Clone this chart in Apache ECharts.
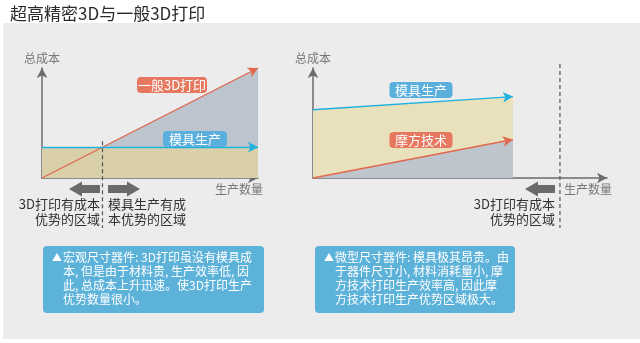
<!DOCTYPE html>
<html><head><meta charset="utf-8">
<script src="https://cdn.jsdelivr.net/npm/echarts@6/dist/echarts.min.js"></script>
<style>html,body{margin:0;padding:0;background:#fff}#c{width:640px;height:343px}</style>
</head><body><div id="c"></div>
<script>
// ---- data ----
const titleText = '超高精密3D与一般3D打印';
// left chart (macro size parts)
const leftX = [0, 100];
const leftMold = [28, 28];        // 模具生产
const leftPrint = [0, 100];       // 一般3D打印
const leftBoundary = 28;          // 成本交叉点
// right chart (micro size parts)
const rightX = [0, 68];
const rightMold = [62, 74];       // 模具生产
const rightMofang = [0, 35];      // 摩方技术
const rightBoundary = 84;
const axisNames = ['总成本', '生产数量'];
const seriesNamesLeft = ['一般3D打印', '模具生产'];
const seriesNamesRight = ['模具生产', '摩方技术'];
const leftRegionLabels = ['3D打印有成本\n优势的区域', '模具生产有成\n本优势的区域'];
const rightRegionLabel = '3D打印有成本\n优势的区域';
const leftNote = '宏观尺寸器件: 3D打印虽没有模具成\n本, 但是由于材料贵, 生产效率低, 因\n此, 总成本上升迅速。使3D打印生产\n优势数量很小。';
const rightNote = '微型尺寸器件: 模具极其昂贵。由\n于器件尺寸小, 材料消耗量小, 摩\n方技术打印生产效率高, 因此摩\n方技术打印生产优势区域极大。';

const FONT = '"Noto Sans CJK SC","Noto Sans",sans-serif';
const ORANGE = '#e0684e', BLUE = '#1fb1e0';
const pairs = (xs, ys) => xs.map((x, i) => [x, ys[i]]);

const chart = echarts.init(document.getElementById('c'));

function axisCommon(i) {
  return {
    gridIndex: i, type: 'value', min: 0, max: 100,
    axisLine: { onZero: false, lineStyle: { color: '#6b6b6b', width: 1.5 }, symbol: ['none', 'arrow'], symbolSize: [8, 10] },
    axisTick: { show: false }, axisLabel: { show: false }, splitLine: { show: false }
  };
}
function lineMark(xs, ys, color) {
  return [{ coord: [xs[0], ys[0]], lineStyle: { color: color, width: 1.4, type: 'solid' } }, { coord: [xs[xs.length - 1], ys[ys.length - 1]] }];
}

chart.setOption({
  backgroundColor: '#fff',
  animation: false,
  title: { text: titleText, left: 5, top: 0, textStyle: { fontSize: 17, fontWeight: 'normal', color: '#2a2a2a', fontFamily: FONT } },
  grid: [
    { left: 42, top: 68, width: 216, height: 110 },
    { left: 313, top: 68, width: 294, height: 110 }
  ],
  xAxis: [axisCommon(0), axisCommon(1)],
  yAxis: [0, 1].map(i => Object.assign(axisCommon(i), {
    name: axisNames[0], nameLocation: 'end', nameGap: 4,
    nameTextStyle: { color: '#777', fontSize: 12, fontFamily: FONT }
  })),
  series: [
    { name: seriesNamesLeft[0], type: 'line', xAxisIndex: 0, yAxisIndex: 0, data: pairs(leftX, leftPrint), symbol: 'none', silent: true,
      lineStyle: { width: 0 }, areaStyle: { color: '#bcc4cd', opacity: 1 }, z: 1 },
    { name: seriesNamesLeft[1], type: 'line', xAxisIndex: 0, yAxisIndex: 0, data: pairs(leftX, leftMold), symbol: 'none', silent: true,
      lineStyle: { width: 0 }, areaStyle: { color: '#d9d0aa', opacity: 1 }, z: 2 },
    { type: 'line', xAxisIndex: 0, yAxisIndex: 0, data: pairs(leftX, leftMold), symbol: 'none', silent: true, lineStyle: { width: 0 }, z: 10,
      markLine: { silent: true, symbol: ['none', 'arrow'], symbolSize: [8, 10], label: { show: false },
        data: [lineMark(leftX, leftPrint, ORANGE), lineMark(leftX, leftMold, BLUE)] } },
    { name: seriesNamesRight[0], type: 'line', xAxisIndex: 1, yAxisIndex: 1, data: pairs(rightX, rightMold), symbol: 'none', silent: true,
      lineStyle: { width: 0 }, areaStyle: { color: '#e9e1bb', opacity: 1 }, z: 1 },
    { name: seriesNamesRight[1], type: 'line', xAxisIndex: 1, yAxisIndex: 1, data: pairs(rightX, rightMofang), symbol: 'none', silent: true,
      lineStyle: { width: 0 }, areaStyle: { color: '#bec5cd', opacity: 1 }, z: 2 },
    { type: 'line', xAxisIndex: 1, yAxisIndex: 1, data: pairs(rightX, rightMold), symbol: 'none', silent: true, lineStyle: { width: 0 }, z: 10,
      markLine: { silent: true, symbol: ['none', 'arrow'], symbolSize: [8, 10], label: { show: false },
        data: [lineMark(rightX, rightMold, BLUE), lineMark(rightX, rightMofang, ORANGE)] } }
  ]
});

// ---- annotations ----
const lb = chart.convertToPixel({ gridIndex: 0 }, [leftBoundary, leftMold[0]]);
const rb = chart.convertToPixel({ gridIndex: 1 }, [rightBoundary, 100]);
const ARROWC = '#6a6a6a';

function tag(cx, cy, w, text, color) {
  return { type: 'group', children: [
    { type: 'rect', z: 100, shape: { x: cx - w / 2, y: cy - 8, width: w, height: 16, r: 4 }, style: { fill: color } },
    { type: 'text', z: 101, style: { text: text, x: cx, y: cy, textAlign: 'center', textVerticalAlign: 'middle', fill: '#fff', font: '13px ' + FONT } }
  ] };
}
function blockArrow(tipX, endX, cy) {
  const dir = endX > tipX ? 1 : -1;
  const headBase = tipX + dir * 13;
  return { type: 'polygon', z: 50, shape: { points: [
    [tipX, cy], [headBase, cy - 7.5], [headBase, cy - 4], [endX, cy - 4], [endX, cy + 4], [headBase, cy + 4], [headBase, cy + 7.5]
  ] }, style: { fill: ARROWC } };
}
function dashed(x, y1, y2) {
  return { type: 'line', z: 60, shape: { x1: x, y1: y1, x2: x, y2: y2 }, style: { stroke: '#555', lineWidth: 1.2, lineDash: [4, 3] } };
}
function txt(x, y, text, align, size, color, lh) {
  return { type: 'text', z: 101, style: { text: text, x: x, y: y, textAlign: align, textVerticalAlign: 'top', fill: color, font: size + 'px ' + FONT, lineHeight: lh } };
}
function note(x, y, w, h, text) {
  return { type: 'group', children: [
    { type: 'rect', z: 100, shape: { x: x, y: y, width: w, height: h, r: 4 }, style: { fill: '#5db2da' } },
    txt(x + 9, y + 4, '▲', 'left', 10, '#fff', 14),
    txt(x + 20, y + 4, text, 'left', 12, '#fff', 14)
  ] };
}

chart.setOption({
  graphic: [
    { type: 'rect', z: -100, silent: true, shape: { x: 3, y: 23, width: 637, height: 316 }, style: { fill: '#ececec' } },
    dashed(lb[0], lb[1] - 6, 228),
    dashed(rb[0], rb[1] - 4, 228),
    blockArrow(69, 100, 189), blockArrow(140, 108, 189),
    blockArrow(525, 555, 189),
    txt(263, 182, axisNames[1], 'right', 12, '#777', 14),
    txt(612, 182, axisNames[1], 'right', 12, '#777', 14),
    txt(100, 197, leftRegionLabels[0], 'right', 13, '#333', 15),
    txt(108, 197, leftRegionLabels[1], 'left', 13, '#333', 15),
    txt(555, 197, rightRegionLabel, 'right', 13, '#333', 15),
    tag(172, 85, 70, seriesNamesLeft[0], '#e5785e'),
    tag(195, 139, 64, seriesNamesLeft[1], '#5aafdc'),
    tag(421, 90, 63, seriesNamesRight[0], '#5aafdc'),
    tag(421, 140, 63, seriesNamesRight[1], '#e5785e'),
    note(43, 246, 221, 67, leftNote),
    note(315, 246, 200, 67, rightNote)
  ]
});
</script></body></html>
